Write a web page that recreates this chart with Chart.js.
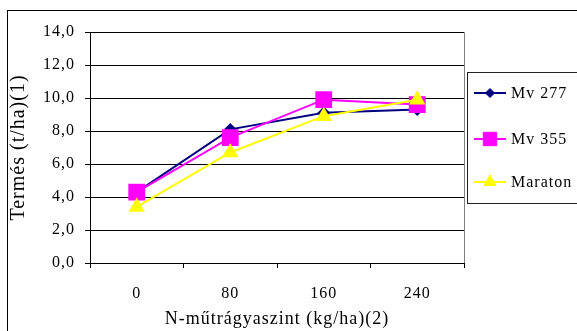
<!DOCTYPE html>
<html>
<head>
<meta charset="utf-8">
<script src="https://cdn.jsdelivr.net/npm/chart.js@4/dist/chart.umd.min.js"></script>
<style>
  html, body { margin: 0; padding: 0; background: #fff; }
  #wrap { width: 577px; height: 331px; }
</style>
</head>
<body>
<div id="wrap"><canvas id="yieldChart" width="577" height="331"></canvas></div>
<script>
// Termés N-műtrágyaszint szerint, három fajta
const nLevels = ['0', '80', '160', '240'];
const mv277 = [4.3, 8.1, 9.1, 9.3];
const mv355 = [4.3, 7.6, 9.9, 9.6];
const maraton = [3.4, 6.7, 8.9, 9.9];

const serif = '"Liberation Serif", "Times New Roman", serif';

// slightly loose text spacing, like the old office renderer
const spacing = {
  id: 'spacing',
  beforeLayout(chart) { chart.ctx.letterSpacing = '1px'; },
  beforeDraw(chart) { chart.ctx.letterSpacing = '1px'; }
};

// outer frame + boxed legend on the right, Excel style
const frameAndLegend = {
  id: 'frameAndLegend',
  beforeDraw(chart) {
    const c = chart.ctx;
    const a = chart.chartArea;
    c.save();
    c.strokeStyle = '#808080';
    c.lineWidth = 1;
    c.beginPath();
    c.moveTo(a.left, a.top + 0.5);
    c.lineTo(a.right + 0.5, a.top + 0.5);
    c.lineTo(a.right + 0.5, a.bottom);
    c.stroke();
    c.restore();
  },
  afterDraw(chart) {
    const c = chart.ctx;
    c.save();
    c.strokeStyle = '#000';
    c.lineWidth = 1;
    c.strokeRect(7.5, 10.5, 600, 400);

    c.strokeStyle = '#222';
    c.strokeRect(467.5, 72.5, 140, 131);

    const rows = [93, 139, 182];
    chart.data.datasets.forEach((ds, i) => {
      const y = rows[i];
      c.strokeStyle = ds.borderColor;
      c.lineWidth = 2;
      c.beginPath();
      c.moveTo(474, y);
      c.lineTo(506, y);
      c.stroke();
      c.fillStyle = ds.backgroundColor;
      c.strokeStyle = ds.borderColor;
      c.lineWidth = 1;
      Chart.helpers.drawPoint(c, {
        pointStyle: ds.pointStyle,
        radius: ds.legendRadius,
        borderWidth: 1
      }, 490, y);
      c.fillStyle = '#000';
      c.letterSpacing = '1px';
      c.font = '16px ' + serif;
      c.textAlign = 'left';
      c.textBaseline = 'middle';
      c.fillText(ds.label, 511, y + 1);
    });
    c.restore();
  }
};

new Chart(document.getElementById('yieldChart'), {
  type: 'line',
  data: {
    labels: nLevels,
    datasets: [
      {
        label: 'Mv 277',
        data: mv277,
        borderColor: '#000080',
        backgroundColor: '#000080',
        borderWidth: 2,
        pointStyle: 'rectRot',
        pointRadius: 5,
        legendRadius: 4.5,
        order: 2
      },
      {
        label: 'Mv 355',
        data: mv355,
        borderColor: '#ff00ff',
        backgroundColor: '#ff00ff',
        borderWidth: 2,
        pointStyle: 'rect',
        pointRadius: 10.5,
        legendRadius: 9.5,
        order: 1
      },
      {
        label: 'Maraton',
        data: maraton,
        borderColor: '#ffff00',
        backgroundColor: '#ffff00',
        borderWidth: 2,
        pointStyle: 'triangle',
        pointRadius: 7.5,
        legendRadius: 7,
        order: 0
      }
    ]
  },
  options: {
    responsive: false,
    animation: false,
    events: [],
    layout: { padding: { left: 7, top: 32, right: 113, bottom: 0 } },
    elements: { line: { tension: 0 }, point: { borderWidth: 1, hoverRadius: 0 } },
    plugins: {
      legend: { display: false },
      tooltip: { enabled: false }
    },
    scales: {
      x: {
        offset: true,
        grid: { offset: true, drawOnChartArea: false, tickLength: 5, color: '#000' },
        border: { color: '#000', width: 1 },
        ticks: { color: '#000', padding: 16, font: { family: serif, size: 16 } },
        title: {
          display: true,
          text: 'N-műtrágyaszint (kg/ha)(2)',
          color: '#000',
          font: { family: serif, size: 18 },
          padding: { top: 4, bottom: 1 }
        },
        afterFit(s) { s.height = 68; }
      },
      y: {
        min: 0,
        max: 14,
        ticks: {
          stepSize: 2,
          color: '#000',
          padding: 10,
          font: { family: serif, size: 16 },
          callback: v => v.toFixed(1).replace('.', ',')
        },
        grid: { color: '#000', tickLength: 5 },
        border: { color: '#000', width: 1 },
        title: {
          display: true,
          text: 'Termés (t/ha)(1)',
          color: '#000',
          font: { family: serif, size: 20 },
          padding: { top: 0, bottom: 4 }
        },
        afterFit(s) { s.width = 83; }
      }
    }
  },
  plugins: [spacing, frameAndLegend]
});
</script>
</body>
</html>
